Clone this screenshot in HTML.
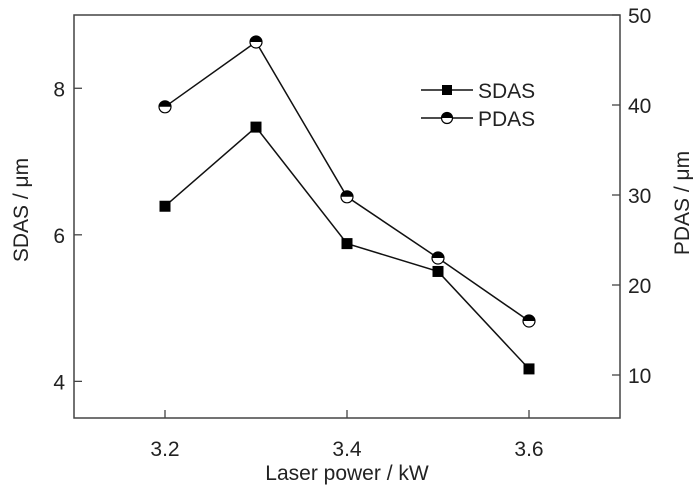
<!DOCTYPE html>
<html><head><meta charset="utf-8"><style>
body{margin:0;background:#fff}
svg text{font-family:"Liberation Sans",Arial,sans-serif;fill:#222}
</style></head><body>
<svg width="700" height="496" viewBox="0 0 700 496" xmlns="http://www.w3.org/2000/svg">
<g id="axes"></g><g id="series"></g>
<g>
 <line x1="421" y1="90" x2="473" y2="90" stroke="#111" stroke-width="1.5"/>
 <rect x="442" y="85" width="10" height="10" fill="#000"/>
 <text x="478" y="98" font-size="21">SDAS</text>
 <line x1="421" y1="118" x2="473" y2="118" stroke="#111" stroke-width="1.5"/>
 <g>
  <circle cx="447" cy="118" r="5.5" fill="#fff" stroke="#000" stroke-width="1.2"/>
  <path d="M441.5,118 A5.5,5.5 0 0 1 452.5,118 Z" fill="#000"/>
 </g>
 <text x="478" y="126" font-size="21">PDAS</text>
</g>
</svg>
<script>
const xs=[3.2,3.3,3.4,3.5,3.6];
const sdas=[6.39,7.47,5.88,5.50,4.17];
const pdas=[39.8,47.0,29.8,23.0,16.0];
const xTicks=[3.2,3.4,3.6];
const yLTicks=[4,6,8];
const yRTicks=[10,20,30,40,50];
const NS="http://www.w3.org/2000/svg";
const L=74,R=620,T=15,B=418;
const X=v=>L+(v-3.1)/(0.6)*(R-L);
const YL=v=>B-(v-3.5)/(5.5)*(B-T);
const YR=v=>420-(v-5)*9;
function mk(t,a,p){const e=document.createElementNS(NS,t);for(const k in a)e.setAttribute(k,a[k]);p.appendChild(e);return e;}
const ax=document.getElementById('axes'),se=document.getElementById('series');
const frame=mk('rect',{x:L,y:T,width:R-L,height:B-T,fill:'none',stroke:'#444','stroke-width':1.5},ax);


xTicks.forEach(v=>{const x=X(v);
 const t=mk('line',{x1:x,y1:B,x2:x,y2:B-8,stroke:'#444','stroke-width':1.3},ax);
 
 
 const l=mk('text',{x:x,y:456,'font-size':21,'text-anchor':'middle'},ax);l.textContent=v.toFixed(1);
 
 
});
yLTicks.forEach(v=>{const y=YL(v);
 const t=mk('line',{x1:L,y1:y,x2:L+8,y2:y,stroke:'#444','stroke-width':1.3},ax);
 
 
 const l=mk('text',{x:65,y:y+8,'font-size':21,'text-anchor':'end'},ax);l.textContent=v;
 
 
});
yRTicks.forEach(v=>{const y=YR(v);
 const t=mk('line',{x1:R,y1:y,x2:R-8,y2:y,stroke:'#444','stroke-width':1.3},ax);
 
 
 const l=mk('text',{x:628,y:y+8,'font-size':21},ax);l.textContent=v;
 
 
});
const xt=mk('text',{x:347,y:480,'font-size':21,'text-anchor':'middle'},ax);xt.textContent='Laser power / kW';


const yl=mk('text',{x:0,y:0,'font-size':21,'text-anchor':'middle',transform:'translate(28,210) rotate(-90)'},ax);yl.textContent='SDAS / μm';


const yr=mk('text',{x:0,y:0,'font-size':21,'text-anchor':'middle',transform:'translate(689,203) rotate(-90)'},ax);yr.textContent='PDAS / μm';


const l1=mk('polyline',{points:xs.map((v,i)=>X(v)+','+YL(sdas[i])).join(' '),fill:'none',stroke:'#111','stroke-width':1.5},se);


const l2=mk('polyline',{points:xs.map((v,i)=>X(v)+','+YR(pdas[i])).join(' '),fill:'none',stroke:'#111','stroke-width':1.5},se);


xs.forEach((v,i)=>{
 const x=X(v),y=YL(sdas[i]);
 const s=mk('rect',{x:x-5.5,y:y-5.5,width:11,height:11,fill:'#000'},se);
 
 
 const y2=YR(pdas[i]);
 const g=mk('g',{},se);
 
 
 mk('circle',{cx:x,cy:y2,r:6,fill:'#fff',stroke:'#000','stroke-width':1.2},g);
 mk('path',{d:`M${x-6},${y2} A6,6 0 0 1 ${x+6},${y2} Z`,fill:'#000'},g);
});
</script>
</body></html>
